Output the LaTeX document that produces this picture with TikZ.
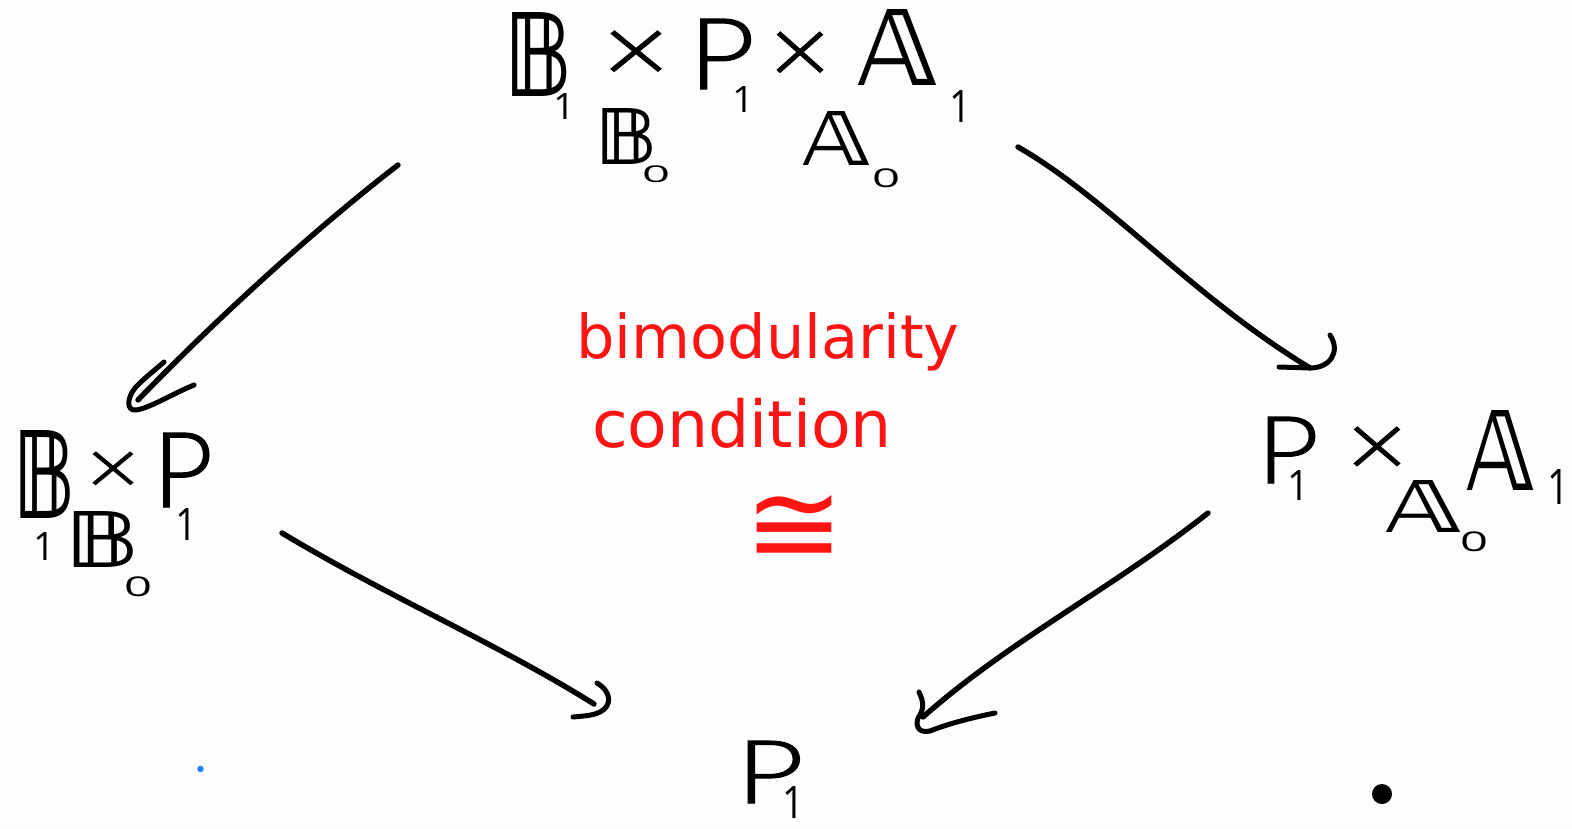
\documentclass[tikz,border=0pt]{standalone}
\usepackage{graphicx}
\usepackage{fontspec}
\setmainfont{DejaVu Sans}
\newfontfamily\ltfam[FakeBold=1.2]{Lato Light}
\newfontfamily\digitf{Open Sans}
\definecolor{paper}{HTML}{FDFDFD}
\definecolor{inkred}{HTML}{FF1414}
\definecolor{inkblue}{HTML}{1E80FF}
\newcommand\bbg[3]{\resizebox*{#1pt}{#2pt}{\fontsize{40}{40}\bfseries\selectfont #3}}
\newcommand\ltg[3]{\resizebox*{#1pt}{#2pt}{\fontsize{40}{40}\ltfam\selectfont #3}}
\newcommand\dg[3]{\resizebox*{#1pt}{#2pt}{\fontsize{40}{40}\digitf\selectfont #3}}
\tikzset{
  sym/.style={inner sep=0pt,outer sep=0pt,text=black,anchor=center},
  red note/.style={inner sep=0pt,outer sep=0pt,text=inkred},
  shaft/.style={draw=black,line width=5.4pt,line cap=round,line join=round},
  barb/.style={draw=black,line width=5pt,line cap=round,line join=round}
}
\begin{document}
\begin{tikzpicture}[x=1pt,y=-1pt]
\useasboundingbox (0,0) rectangle (1572,828);
\fill[paper] (0,0) rectangle (1572,828);
% top vertex
\node[sym] (tB) at (538,54) {\bbg{68}{84}{𝔹}};
\node[sym] (tB1) at (564,106) {\dg{22}{26}{1}};
\node[sym] (tX1) at (636,57) {\ltg{68}{52}{×}};
\node[sym] (tP) at (722,54) {\ltg{66}{70}{P}};
\node[sym] (tP1) at (743,99) {\dg{22}{26}{1}};
\node[sym] (tX2) at (800,58) {\ltg{62}{52}{×}};
\node[sym] (tA) at (897,47) {\bbg{80}{76}{𝔸}};
\node[sym] (tA1) at (960,106) {\dg{22}{32}{1}};
\node[sym] (tB0) at (626,136) {\bbg{62}{56}{𝔹}};
\node[sym] (tB00) at (656,174) {\dg{28}{17}{0}};
\node[sym] (tA0) at (836,138) {\bbg{68}{54}{𝔸}};
\node[sym] (tA00) at (886,178) {\dg{28}{19}{0}};
% left vertex
\node[sym] (lB) at (44,474) {\bbg{62}{88}{𝔹}};
\node[sym] (lX) at (113,473) {\ltg{54}{42}{×}};
\node[sym] (lP) at (183,470) {\ltg{60}{74}{P}};
\node[sym] (lc1) at (44,546) {\dg{22}{28}{1}};
\node[sym] (lB0) at (102,539) {\bbg{74}{56}{𝔹}};
\node[sym] (lB00) at (138,587) {\dg{28}{20}{0}};
\node[sym] (lP1) at (186,524) {\dg{22}{32}{1}};
% right vertex
\node[sym] (rP) at (1288,450) {\ltg{62}{66}{P}};
\node[sym] (rP1) at (1298,485) {\dg{22}{30}{1}};
\node[sym] (rX) at (1377,452) {\ltg{62}{50}{×}};
\node[sym] (rA) at (1500,450) {\bbg{68}{80}{𝔸}};
\node[sym] (rA1) at (1558,487) {\dg{22}{35}{1}};
\node[sym] (rA0) at (1423,506) {\bbg{76}{52}{𝔸}};
\node[sym] (rA00) at (1474,542) {\dg{28}{20}{0}};
% bottom vertex
\node[sym] (bP) at (770,772) {\ltg{68}{62}{P}};
\node[sym] (bP1) at (793,802) {\dg{22}{32}{1}};
% red annotation
\node[red note,anchor=base] (nb) at (768,358) {\resizebox{383pt}{!}{\fontsize{60}{60}\selectfont bimodularity}};
\node[red note,anchor=base] (nc) at (742,447) {\resizebox{300pt}{!}{\fontsize{60}{60}\selectfont condition}};
\node[red note,anchor=center] (nn) at (794,529) {\resizebox*{100pt}{68pt}{\fontsize{60}{60}\selectfont ≅}};
% stray marks
\node[circle,fill=black,minimum size=20pt,inner sep=0pt] (dot) at (1382,794) {};
\node[circle,fill=inkblue,minimum size=6.5pt,inner sep=0pt] (blue) at (200.5,769) {};
% connector ends
\coordinate (a1s) at (398,165);
\coordinate (a1e) at (138,400);
\coordinate (a2s) at (1018,147);
\coordinate (a2e) at (1310,368);
\coordinate (a3s) at (282,533);
\coordinate (a3e) at (594,704);
\coordinate (a4s) at (1208,513);
\coordinate (a4e) at (923,717);
% connectors
\draw[shaft] (a1s) .. controls (320,225) and (220,315) .. (a1e);
\draw[barb] (194,385) .. controls (170,395) and (150,408) .. (136,410) .. controls (126,411) and (127,398) .. (135,388) .. controls (142,380) and (155,370) .. (164,362);
\draw[shaft] (a2s) .. controls (1110,200) and (1190,295) .. (a2e);
\draw[barb] (1279,367) -- (1310,368) .. controls (1330,368) and (1341,352) .. (1330,335);
\draw[shaft] (a3s) .. controls (385,595) and (500,645) .. (a3e);
\draw[barb] (597,683) .. controls (612,692) and (612,706) .. (600,712) .. controls (592,716) and (582,716) .. (573,717);
\draw[shaft] (a4s) .. controls (1110,590) and (1010,640) .. (a4e);
\draw[barb] (919,692) .. controls (924,702) and (924,710) .. (918,718) .. controls (915,728) and (920,733) .. (930,731) .. controls (950,723) and (975,717) .. (995,713);
\end{tikzpicture}
\end{document}
